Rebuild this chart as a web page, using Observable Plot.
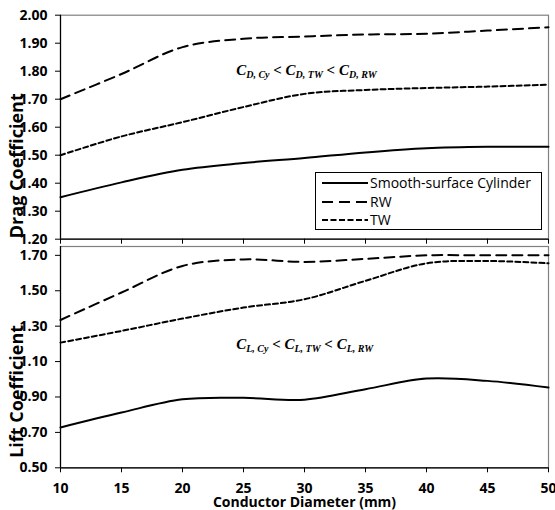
<!DOCTYPE html>
<html><head><meta charset="utf-8">
<script src="https://cdn.jsdelivr.net/npm/d3@7"></script>
<script src="https://cdn.jsdelivr.net/npm/@observablehq/plot@0.6"></script>
<style>
body{margin:0;background:#fff;}
#chart{position:relative;width:555px;height:510px;overflow:hidden;}
#chart svg{display:block;}
#legend{position:absolute;left:315px;top:172px;width:227px;height:58px;border:1px solid #000;background:#fff;box-sizing:border-box;font-family:"Open Sans",sans-serif;font-size:14px;color:#000;}
#legend .row{position:absolute;left:6px;height:18px;line-height:18px;white-space:nowrap;}
#legend svg{display:inline-block;vertical-align:middle;}
#legend span{vertical-align:middle;margin-left:2px;}
</style></head><body><div id="chart"></div>
<script>
const diameters = [10, 15, 20, 25, 30, 35, 40, 45, 50];
const seriesNames = ["Smooth-surface Cylinder", "RW", "TW"];
const dragCylinder = [1.35, 1.403, 1.448, 1.472, 1.49, 1.51, 1.525, 1.53, 1.53];
const dragRW = [1.70, 1.79, 1.886, 1.916, 1.924, 1.931, 1.934, 1.945, 1.957];
const dragTW = [1.50, 1.567, 1.618, 1.672, 1.719, 1.733, 1.74, 1.745, 1.752];
const liftCylinder = [0.728, 0.812, 0.887, 0.895, 0.885, 0.944, 1.004, 0.991, 0.953];
const liftRW = [1.335, 1.49, 1.64, 1.677, 1.663, 1.68, 1.70, 1.70, 1.70];
const liftTW = [1.207, 1.273, 1.343, 1.405, 1.452, 1.556, 1.655, 1.668, 1.655];
const dragTicks = [1.2, 1.3, 1.4, 1.5, 1.6, 1.7, 1.8, 1.9, 2.0];
const liftTicks = [0.5, 0.7, 0.9, 1.1, 1.3, 1.5, 1.7];
const xTicks = [10, 15, 20, 25, 30, 35, 40, 45, 50];
const dragNote = [["C", "D, Cy"], ["C", "D, TW"], ["C", "D, RW"]];
const liftNote = [["C", "L, Cy"], ["C", "L, TW"], ["C", "L, RW"]];
const dashes = {"Smooth-surface Cylinder": null, "RW": "10,6", "TW": "5,3"};

function rows(values) {
  return values.flatMap((vals, i) => diameters.map((d, j) => ({d, v: vals[j], s: seriesNames[i]})));
}

function panel({data, yDomain, yTicks, label, labelShift, height, marginTop, marginBottom, showX, note, noteAt}) {
  const lines = seriesNames.map(s => Plot.line(data.filter(r => r.s === s), {
    x: "d", y: "v", stroke: "#000", strokeWidth: 2, curve: "catmull-rom",
    strokeDasharray: dashes[s] || undefined
  }));
  const svg = Plot.plot({
    width: 555, height, marginLeft: 60, marginRight: 7, marginTop, marginBottom,
    style: {fontFamily: "'Open Sans', sans-serif", fontSize: "14px", fontWeight: "bold", color: "#000", background: "transparent", overflow: "visible"},
    x: {domain: [10, 50]},
    y: {domain: yDomain},
    marks: [
      Plot.frame({stroke: "#808080", strokeWidth: 1.2}),
      Plot.ruleX([10], {stroke: "#000", strokeWidth: 1.2}),
      Plot.ruleY([yDomain[0]], {stroke: "#000", strokeWidth: 1.2}),
      Plot.axisY({ticks: yTicks, tickFormat: d => d.toFixed(2), tickSize: 5, tickPadding: 8, label: null}),
      Plot.axisX({ticks: xTicks, tickSize: 5, tickPadding: 10,
        tickFormat: showX ? (d => String(d)) : (() => ""),
        label: showX ? "Conductor Diameter (mm)" : null, labelAnchor: "center", labelArrow: "none", labelOffset: 39}),
      ...lines,
      Plot.text([label], {frameAnchor: "bottom-left", rotate: -90, textAnchor: "start", lineAnchor: "top",
        dx: -50, dy: -labelShift, fontSize: 18, fontWeight: "bold"}),
      Plot.text([noteAt], {x: "x", y: "y", text: () => note.map(p => p.join("")).join(" < "),
        textAnchor: "start", lineAnchor: "bottom", fontFamily: "'Liberation Serif', serif",
        fontStyle: "italic", fontWeight: "bold", fontSize: 15})
    ]
  });
  svg.querySelectorAll('[aria-label="x-axis label"] text').forEach(t => t.setAttribute("font-size", "14"));
  const texts = svg.querySelectorAll('g[aria-label="text"] text');
  const t = texts[texts.length - 1];
  if (t) {
    t.textContent = "";
    t.style.whiteSpace = "pre";
    const ns = "http://www.w3.org/2000/svg";
    note.forEach((p, i) => {
      if (i > 0) {
        const sep = document.createElementNS(ns, "tspan");
        sep.setAttribute("dy", "-3"); sep.setAttribute("font-size", "15");
        sep.textContent = " < "; t.appendChild(sep);
      }
      const c = document.createElementNS(ns, "tspan");
      c.setAttribute("font-size", "15"); c.textContent = p[0]; t.appendChild(c);
      const sub = document.createElementNS(ns, "tspan");
      sub.setAttribute("dy", "3"); sub.setAttribute("font-size", "10");
      sub.textContent = p[1]; t.appendChild(sub);
    });
  }
  return svg;
}

const chart = document.getElementById("chart");
chart.appendChild(panel({
  data: rows([dragCylinder, dragRW, dragTW]), yDomain: [1.2, 2.0], yTicks: dragTicks,
  label: "Drag Coefficient", labelShift: 1, height: 245, marginTop: 14.7, marginBottom: 6.3, showX: false,
  note: dragNote, noteAt: {x: 24.4, y: 1.785}
}));
chart.appendChild(panel({
  data: rows([liftCylinder, liftRW, liftTW]), yDomain: [0.5, 1.75], yTicks: liftTicks,
  label: "Lift Coefficient", labelShift: 10, height: 265, marginTop: 1, marginBottom: 42.7, showX: true,
  note: liftNote, noteAt: {x: 24.4, y: 1.173}
}));

const legend = document.createElement("div");
legend.id = "legend";
seriesNames.forEach((s, i) => {
  const row = document.createElement("div");
  row.className = "row";
  row.style.top = (0 + i * 18.5) + "px";
  const dash = dashes[s] ? ` stroke-dasharray="${s === "RW" ? "11,6" : "6,2.5"}"` : "";
  row.innerHTML = `<svg width="46" height="10"><line x1="0" x2="46" y1="5" y2="5" stroke="#000" stroke-width="2"${dash}/></svg><span>${s}</span>`;
  legend.appendChild(row);
});
chart.appendChild(legend);
</script>
</body></html>
